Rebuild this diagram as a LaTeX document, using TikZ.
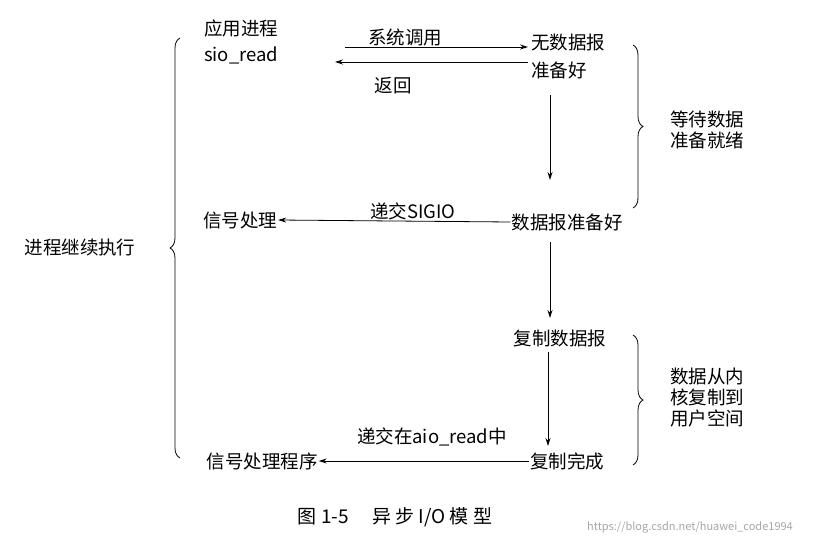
\documentclass[tikz,border=0pt]{standalone}
\usepackage{fontspec}
\setmainfont{Noto Sans CJK SC}
\usetikzlibrary{decorations.pathreplacing,arrows.meta}
\begin{document}
\begin{tikzpicture}[x=1pt,y=-1pt,
  lbl/.style={font=\fontsize{18.5}{21}\selectfont,inner sep=1pt},
  arr/.style={-{Stealth[length=8pt,width=5pt]},line width=0.8pt},
  br/.style={decorate,decoration={brace,amplitude=10pt},line width=0.8pt}]
\useasboundingbox (0,0) rectangle (839,546);
\node[lbl,anchor=west] (app) at (203,28) {应用进程};
\node[lbl,anchor=west] (sio) at (203,55) {sio\_read};
\node[lbl,anchor=west] (nod) at (530,42) {无数据报};
\node[lbl,anchor=west] (rdy) at (530,70) {准备好};
\coordinate (a1s) at (345,47); \coordinate (a1e) at (528,47);
\draw[arr] (a1s) -- node[lbl,above,pos=0.33] {系统调用} (a1e);
\coordinate (a2s) at (528,62); \coordinate (a2e) at (335,62);
\draw[arr] (a2s) -- (a2e);
\node[lbl] (ret) at (393,86) {返回};
\coordinate (v1s) at (550,95); \coordinate (v1e) at (550,180);
\draw[arr] (v1s) -- (v1e);
\node[lbl] (drdy) at (567,222) {数据报准备好};
\node[lbl] (sig) at (240,220) {信号处理};
\draw[arr] (drdy.west) -- node[lbl,above,pos=0.42] {递交SIGIO} (sig.east);
\coordinate (v2s) at (550,242); \coordinate (v2e) at (550,318);
\draw[arr] (v2s) -- (v2e);
\node[lbl] (copy) at (560,338) {复制数据报};
\coordinate (v3s) at (548,352); \coordinate (v3e) at (548,446);
\draw[arr] (v3s) -- (v3e);
\node[lbl] (done) at (567,461) {复制完成};
\node[lbl] (sigp) at (262,461) {信号处理程序};
\draw[arr] (done.west) -- (sigp.east);
\node[lbl] (deliv) at (432,437) {递交在aio\_read中};
\draw[br] (633,45) -- (633,208);
\node[lbl,align=left] (wait) at (707,130) {等待数据\\准备就绪};
\draw[br] (633,335) -- (633,465);
\node[lbl,align=left] (kern) at (707,398) {数据从内\\核复制到\\用户空间};
\draw[br] (180,458) -- (180,38);
\node[lbl] (cont) at (80,247) {进程继续执行};
\node[font=\fontsize{19}{21}\selectfont] (cap) at (395,517) {图 1-5\quad\ 异 步\ I/O\ 模 型};
\node[font=\fontsize{11}{13}\selectfont,text=gray!70] (wm) at (690,527) {https://blog.csdn.net/huawei\_code1994};
\end{tikzpicture}
\end{document}
